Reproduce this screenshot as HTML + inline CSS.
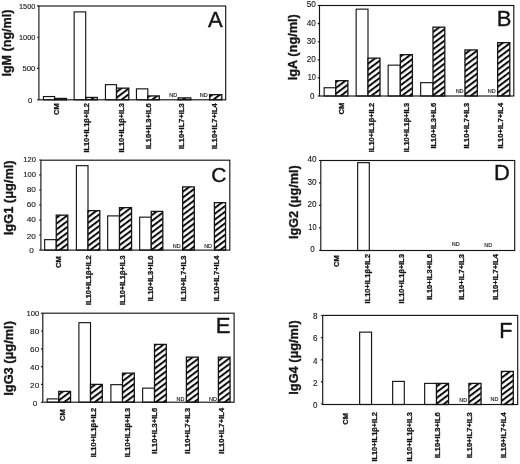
<!DOCTYPE html>
<html><head><meta charset="utf-8"><title>Figure</title>
<style>
html,body{margin:0;padding:0;background:#fff;}
svg{display:block;will-change:transform;}
text{font-family:"Liberation Sans", sans-serif;fill:#151515;}
.t{font-size:8.4px;text-anchor:end;stroke:#151515;stroke-width:0.12;}
.x{font-size:7.5px;font-weight:bold;text-anchor:end;stroke:#151515;stroke-width:0.30;}
.n{font-size:4.9px;text-anchor:middle;stroke:#151515;stroke-width:0.12;}
.y{font-size:13.0px;font-weight:bold;text-anchor:middle;stroke:#151515;stroke-width:0.35;}
.L{text-anchor:start;stroke:#151515;stroke-width:0.4;}
.a{fill:none;stroke:#151515;stroke-width:1.15;}
.o{fill:#fff;stroke:#151515;stroke-width:1.15;}
.h{fill:url(#hp);stroke:#151515;stroke-width:1.30;}
</style></head>
<body>
<svg width="520" height="464" viewBox="0 0 520 464">
<defs><pattern id="hp" width="4.6" height="4.6" patternUnits="userSpaceOnUse" patternTransform="rotate(-37)"><rect width="4.6" height="4.6" fill="#fff"/><rect width="4.6" height="2.0" fill="#0c0c0c"/></pattern></defs>
<rect width="520" height="464" fill="#fff"/>
<g id="panelA">
<rect class="o" x="43.45" y="96.55" width="11.15" height="3.25"/>
<rect class="h" x="54.60" y="98.45" width="11.80" height="1.35"/>
<rect class="o" x="74.15" y="11.90" width="11.55" height="87.90"/>
<rect class="h" x="85.70" y="97.45" width="11.60" height="2.35"/>
<rect class="o" x="105.45" y="84.65" width="11.05" height="15.15"/>
<rect class="h" x="116.50" y="88.15" width="12.30" height="11.65"/>
<rect class="o" x="136.45" y="88.85" width="11.35" height="10.95"/>
<rect class="h" x="147.80" y="95.95" width="11.50" height="3.85"/>
<rect class="h" x="178.15" y="97.90" width="12.65" height="1.90"/>
<rect class="h" x="209.65" y="94.65" width="12.15" height="5.15"/>
<rect class="a" x="38.90" y="6.00" width="186.80" height="93.80"/>
<path class="a" d="M37.10 5.90H38.90M37.10 37.20H38.90M37.10 68.40H38.90M37.10 99.70H38.90"/>
<text class="t" style="font-size:6.8px" x="35.30" y="8.70" textLength="16.3" lengthAdjust="spacingAndGlyphs">1500</text>
<text class="t" style="font-size:6.8px" x="35.30" y="40.00" textLength="16.3" lengthAdjust="spacingAndGlyphs">1000</text>
<text class="t" style="font-size:6.8px" x="35.30" y="71.20" textLength="12.9" lengthAdjust="spacingAndGlyphs">500</text>
<text class="t" style="font-size:6.8px" x="32.30" y="103.30" textLength="4.3" lengthAdjust="spacingAndGlyphs">0</text>
<text class="y" transform="translate(11.30 43.10) rotate(-90)" textLength="67" lengthAdjust="spacingAndGlyphs">IgM (ng/ml)</text>
<text class="L" x="208.00" y="26.90" font-size="22">A</text>
<text class="n" x="173.20" y="96.95" textLength="7.9" lengthAdjust="spacingAndGlyphs">ND</text>
<text class="n" x="203.80" y="96.95" textLength="7.9" lengthAdjust="spacingAndGlyphs">ND</text>
<text class="x" transform="translate(58.70 103.20) rotate(-90)" textLength="11.8" lengthAdjust="spacingAndGlyphs">CM</text>
<text class="x" transform="translate(88.50 103.20) rotate(-90)" textLength="49.4" lengthAdjust="spacingAndGlyphs">IL10+IL1β+IL2</text>
<text class="x" transform="translate(123.50 103.20) rotate(-90)" textLength="49.4" lengthAdjust="spacingAndGlyphs">IL10+IL1β+IL3</text>
<text class="x" transform="translate(151.00 103.20) rotate(-90)" textLength="45.8" lengthAdjust="spacingAndGlyphs">IL10+IL3+IL6</text>
<text class="x" transform="translate(183.60 103.20) rotate(-90)" textLength="45.8" lengthAdjust="spacingAndGlyphs">IL10+IL7+IL3</text>
<text class="x" transform="translate(217.40 103.20) rotate(-90)" textLength="45.8" lengthAdjust="spacingAndGlyphs">IL10+IL7+IL4</text>
</g>
<g id="panelB">
<rect class="o" x="324.15" y="87.75" width="11.60" height="8.25"/>
<rect class="h" x="335.75" y="80.65" width="12.15" height="15.35"/>
<rect class="o" x="356.15" y="9.15" width="11.85" height="86.85"/>
<rect class="h" x="368.00" y="58.15" width="12.00" height="37.85"/>
<rect class="o" x="388.15" y="65.15" width="12.15" height="30.85"/>
<rect class="h" x="400.30" y="54.65" width="12.10" height="41.35"/>
<rect class="o" x="420.65" y="82.65" width="12.35" height="13.35"/>
<rect class="h" x="433.00" y="27.15" width="11.80" height="68.85"/>
<rect class="h" x="464.95" y="49.95" width="12.35" height="46.05"/>
<rect class="h" x="497.65" y="42.65" width="12.15" height="53.35"/>
<rect class="a" x="319.50" y="5.50" width="194.30" height="90.50"/>
<path class="a" d="M317.70 5.50H319.50M317.70 23.60H319.50M317.70 41.70H319.50M317.70 59.80H319.50M317.70 77.90H319.50M317.70 96.00H319.50"/>
<text class="t" style="font-size:8.4px" x="315.90" y="7.20" textLength="9.1" lengthAdjust="spacingAndGlyphs">50</text>
<text class="t" style="font-size:8.4px" x="315.90" y="26.00" textLength="9.1" lengthAdjust="spacingAndGlyphs">40</text>
<text class="t" style="font-size:8.4px" x="315.90" y="43.70" textLength="9.1" lengthAdjust="spacingAndGlyphs">30</text>
<text class="t" style="font-size:8.4px" x="315.90" y="62.20" textLength="9.1" lengthAdjust="spacingAndGlyphs">20</text>
<text class="t" style="font-size:8.4px" x="315.90" y="80.00" textLength="8.2" lengthAdjust="spacingAndGlyphs">10</text>
<text class="t" style="font-size:8.4px" x="314.40" y="98.70" textLength="4.5" lengthAdjust="spacingAndGlyphs">0</text>
<text class="y" transform="translate(296.60 47.20) rotate(-90)" textLength="66" lengthAdjust="spacingAndGlyphs">IgA (ng/ml)</text>
<text class="L" x="496.80" y="25.80" font-size="22">B</text>
<text class="n" x="459.60" y="92.95" textLength="7.9" lengthAdjust="spacingAndGlyphs">ND</text>
<text class="n" x="491.80" y="92.95" textLength="7.9" lengthAdjust="spacingAndGlyphs">ND</text>
<text class="x" transform="translate(344.00 102.80) rotate(-90)" textLength="11.8" lengthAdjust="spacingAndGlyphs">CM</text>
<text class="x" transform="translate(374.40 102.80) rotate(-90)" textLength="49.4" lengthAdjust="spacingAndGlyphs">IL10+IL1β+IL2</text>
<text class="x" transform="translate(409.00 102.80) rotate(-90)" textLength="49.4" lengthAdjust="spacingAndGlyphs">IL10+IL1β+IL3</text>
<text class="x" transform="translate(436.40 102.80) rotate(-90)" textLength="45.8" lengthAdjust="spacingAndGlyphs">IL10+IL3+IL6</text>
<text class="x" transform="translate(469.00 102.80) rotate(-90)" textLength="45.8" lengthAdjust="spacingAndGlyphs">IL10+IL7+IL3</text>
<text class="x" transform="translate(503.00 102.80) rotate(-90)" textLength="45.8" lengthAdjust="spacingAndGlyphs">IL10+IL7+IL4</text>
</g>
<g id="panelC">
<rect class="o" x="44.65" y="239.65" width="11.60" height="10.45"/>
<rect class="h" x="56.25" y="215.15" width="11.55" height="34.95"/>
<rect class="o" x="76.40" y="165.65" width="11.60" height="84.45"/>
<rect class="h" x="88.00" y="210.65" width="11.80" height="39.45"/>
<rect class="o" x="107.65" y="215.90" width="11.85" height="34.20"/>
<rect class="h" x="119.50" y="207.65" width="12.05" height="42.45"/>
<rect class="o" x="139.65" y="217.15" width="11.60" height="32.95"/>
<rect class="h" x="151.25" y="211.40" width="11.55" height="38.70"/>
<rect class="h" x="182.65" y="186.90" width="11.65" height="63.20"/>
<rect class="h" x="214.40" y="202.65" width="11.15" height="47.45"/>
<rect class="a" x="40.90" y="160.20" width="188.90" height="89.90"/>
<path class="a" d="M39.10 160.00H40.90M39.10 175.00H40.90M39.10 190.00H40.90M39.10 205.00H40.90M39.10 220.00H40.90M39.10 235.00H40.90M39.10 250.00H40.90"/>
<text class="t" style="font-size:8.1px" x="35.90" y="161.90" textLength="12.7" lengthAdjust="spacingAndGlyphs">120</text>
<text class="t" style="font-size:8.1px" x="35.90" y="176.90" textLength="12.7" lengthAdjust="spacingAndGlyphs">100</text>
<text class="t" style="font-size:8.1px" x="35.90" y="191.90" textLength="9.2" lengthAdjust="spacingAndGlyphs">80</text>
<text class="t" style="font-size:8.1px" x="35.90" y="206.90" textLength="9.2" lengthAdjust="spacingAndGlyphs">60</text>
<text class="t" style="font-size:8.1px" x="35.90" y="222.20" textLength="9.2" lengthAdjust="spacingAndGlyphs">40</text>
<text class="t" style="font-size:8.1px" x="35.90" y="238.90" textLength="9.2" lengthAdjust="spacingAndGlyphs">20</text>
<text class="t" style="font-size:8.1px" x="33.90" y="252.80" textLength="4.6" lengthAdjust="spacingAndGlyphs">0</text>
<text class="y" transform="translate(12.60 197.80) rotate(-90)" textLength="74.8" lengthAdjust="spacingAndGlyphs">IgG1 (μg/ml)</text>
<text class="L" x="211.30" y="181.80" font-size="21">C</text>
<text class="n" x="176.80" y="247.55" textLength="7.9" lengthAdjust="spacingAndGlyphs">ND</text>
<text class="n" x="208.10" y="247.55" textLength="7.9" lengthAdjust="spacingAndGlyphs">ND</text>
<text class="x" transform="translate(61.00 256.30) rotate(-90)" textLength="11.8" lengthAdjust="spacingAndGlyphs">CM</text>
<text class="x" transform="translate(91.40 255.50) rotate(-90)" textLength="49.4" lengthAdjust="spacingAndGlyphs">IL10+IL1β+IL2</text>
<text class="x" transform="translate(125.30 255.50) rotate(-90)" textLength="49.4" lengthAdjust="spacingAndGlyphs">IL10+IL1β+IL3</text>
<text class="x" transform="translate(153.40 255.50) rotate(-90)" textLength="45.8" lengthAdjust="spacingAndGlyphs">IL10+IL3+IL6</text>
<text class="x" transform="translate(185.60 255.50) rotate(-90)" textLength="45.8" lengthAdjust="spacingAndGlyphs">IL10+IL7+IL3</text>
<text class="x" transform="translate(219.20 255.50) rotate(-90)" textLength="45.8" lengthAdjust="spacingAndGlyphs">IL10+IL7+IL4</text>
</g>
<g id="panelD">
<rect class="o" x="357.65" y="162.65" width="11.65" height="87.85"/>
<rect class="a" x="320.80" y="160.50" width="193.90" height="90.00"/>
<path class="a" d="M319.00 160.50H320.80M319.00 182.90H320.80M319.00 205.30H320.80M319.00 227.80H320.80M319.00 250.20H320.80"/>
<text class="t" style="font-size:8.4px" x="316.50" y="162.45" textLength="9.1" lengthAdjust="spacingAndGlyphs">40</text>
<text class="t" style="font-size:8.4px" x="316.50" y="184.85" textLength="9.1" lengthAdjust="spacingAndGlyphs">30</text>
<text class="t" style="font-size:8.4px" x="316.50" y="207.25" textLength="9.1" lengthAdjust="spacingAndGlyphs">20</text>
<text class="t" style="font-size:8.4px" x="316.50" y="229.75" textLength="8.2" lengthAdjust="spacingAndGlyphs">10</text>
<text class="t" style="font-size:8.4px" x="314.70" y="252.15" textLength="4.5" lengthAdjust="spacingAndGlyphs">0</text>
<text class="y" transform="translate(298.00 202.20) rotate(-90)" textLength="73.8" lengthAdjust="spacingAndGlyphs">IgG2 (μg/ml)</text>
<text class="L" x="494.00" y="179.70" font-size="22">D</text>
<text class="n" x="455.70" y="246.25" textLength="7.9" lengthAdjust="spacingAndGlyphs">ND</text>
<text class="n" x="488.20" y="247.25" textLength="7.9" lengthAdjust="spacingAndGlyphs">ND</text>
<text class="x" transform="translate(339.20 255.30) rotate(-90)" textLength="11.8" lengthAdjust="spacingAndGlyphs">CM</text>
<text class="x" transform="translate(370.40 254.00) rotate(-90)" textLength="49.4" lengthAdjust="spacingAndGlyphs">IL10+IL1β+IL2</text>
<text class="x" transform="translate(403.90 254.00) rotate(-90)" textLength="49.4" lengthAdjust="spacingAndGlyphs">IL10+IL1β+IL3</text>
<text class="x" transform="translate(431.50 254.00) rotate(-90)" textLength="45.8" lengthAdjust="spacingAndGlyphs">IL10+IL3+IL6</text>
<text class="x" transform="translate(463.90 254.00) rotate(-90)" textLength="45.8" lengthAdjust="spacingAndGlyphs">IL10+IL7+IL3</text>
<text class="x" transform="translate(497.90 254.00) rotate(-90)" textLength="45.8" lengthAdjust="spacingAndGlyphs">IL10+IL7+IL4</text>
</g>
<g id="panelE">
<rect class="o" x="47.15" y="398.90" width="11.60" height="3.30"/>
<rect class="h" x="58.75" y="391.40" width="11.80" height="10.80"/>
<rect class="o" x="78.90" y="322.65" width="11.60" height="79.55"/>
<rect class="h" x="90.50" y="384.40" width="11.80" height="17.80"/>
<rect class="o" x="110.90" y="384.65" width="11.60" height="17.55"/>
<rect class="h" x="122.50" y="373.15" width="11.80" height="29.05"/>
<rect class="o" x="142.65" y="388.15" width="11.85" height="14.05"/>
<rect class="h" x="154.50" y="344.40" width="11.80" height="57.80"/>
<rect class="h" x="186.40" y="357.15" width="11.90" height="45.05"/>
<rect class="h" x="218.40" y="357.15" width="11.65" height="45.05"/>
<rect class="a" x="42.80" y="313.20" width="191.30" height="89.00"/>
<path class="a" d="M41.00 313.20H42.80M41.00 331.00H42.80M41.00 348.80H42.80M41.00 366.60H42.80M41.00 384.40H42.80M41.00 402.20H42.80"/>
<text class="t" style="font-size:8.1px" x="39.20" y="315.70" textLength="12.7" lengthAdjust="spacingAndGlyphs">100</text>
<text class="t" style="font-size:8.1px" x="39.20" y="334.30" textLength="9.1" lengthAdjust="spacingAndGlyphs">80</text>
<text class="t" style="font-size:8.1px" x="39.20" y="352.10" textLength="9.1" lengthAdjust="spacingAndGlyphs">60</text>
<text class="t" style="font-size:8.1px" x="39.20" y="369.90" textLength="9.1" lengthAdjust="spacingAndGlyphs">40</text>
<text class="t" style="font-size:8.1px" x="39.20" y="387.70" textLength="9.1" lengthAdjust="spacingAndGlyphs">20</text>
<text class="t" style="font-size:8.1px" x="37.20" y="405.50" textLength="4.5" lengthAdjust="spacingAndGlyphs">0</text>
<text class="y" transform="translate(13.10 358.40) rotate(-90)" textLength="74.6" lengthAdjust="spacingAndGlyphs">IgG3 (μg/ml)</text>
<text class="L" x="215.70" y="333.30" font-size="22">E</text>
<text class="n" x="180.40" y="400.75" textLength="7.9" lengthAdjust="spacingAndGlyphs">ND</text>
<text class="n" x="212.90" y="400.75" textLength="7.9" lengthAdjust="spacingAndGlyphs">ND</text>
<text class="x" transform="translate(64.60 409.10) rotate(-90)" textLength="11.8" lengthAdjust="spacingAndGlyphs">CM</text>
<text class="x" transform="translate(95.50 407.90) rotate(-90)" textLength="49.4" lengthAdjust="spacingAndGlyphs">IL10+IL1β+IL2</text>
<text class="x" transform="translate(129.60 407.90) rotate(-90)" textLength="49.4" lengthAdjust="spacingAndGlyphs">IL10+IL1β+IL3</text>
<text class="x" transform="translate(157.40 407.90) rotate(-90)" textLength="45.8" lengthAdjust="spacingAndGlyphs">IL10+IL3+IL6</text>
<text class="x" transform="translate(190.00 407.90) rotate(-90)" textLength="45.8" lengthAdjust="spacingAndGlyphs">IL10+IL7+IL3</text>
<text class="x" transform="translate(223.80 407.90) rotate(-90)" textLength="45.8" lengthAdjust="spacingAndGlyphs">IL10+IL7+IL4</text>
</g>
<g id="panelF">
<rect class="o" x="359.65" y="332.15" width="11.90" height="72.35"/>
<rect class="o" x="392.65" y="381.40" width="11.65" height="23.10"/>
<rect class="o" x="424.65" y="383.40" width="11.85" height="21.10"/>
<rect class="h" x="436.50" y="383.40" width="12.05" height="21.10"/>
<rect class="h" x="468.90" y="383.40" width="12.15" height="21.10"/>
<rect class="h" x="501.40" y="371.40" width="11.90" height="33.10"/>
<rect class="a" x="322.70" y="315.40" width="195.00" height="89.10"/>
<path class="a" d="M320.90 315.50H322.70M320.90 337.60H322.70M320.90 359.80H322.70M320.90 381.90H322.70M320.90 404.00H322.70"/>
<text class="t" style="font-size:8.4px" x="317.40" y="319.30" textLength="4.5" lengthAdjust="spacingAndGlyphs">8</text>
<text class="t" style="font-size:8.4px" x="317.40" y="341.40" textLength="4.5" lengthAdjust="spacingAndGlyphs">6</text>
<text class="t" style="font-size:8.4px" x="317.40" y="363.60" textLength="4.5" lengthAdjust="spacingAndGlyphs">4</text>
<text class="t" style="font-size:8.4px" x="317.40" y="385.70" textLength="4.5" lengthAdjust="spacingAndGlyphs">2</text>
<text class="t" style="font-size:8.4px" x="317.40" y="407.80" textLength="4.5" lengthAdjust="spacingAndGlyphs">0</text>
<text class="y" transform="translate(298.20 357.50) rotate(-90)" textLength="74.4" lengthAdjust="spacingAndGlyphs">IgG4 (μg/ml)</text>
<text class="L" x="499.20" y="338.00" font-size="21.5">F</text>
<text class="n" x="463.30" y="401.95" textLength="7.9" lengthAdjust="spacingAndGlyphs">ND</text>
<text class="n" x="494.40" y="400.75" textLength="7.9" lengthAdjust="spacingAndGlyphs">ND</text>
<text class="x" transform="translate(347.50 412.90) rotate(-90)" textLength="11.8" lengthAdjust="spacingAndGlyphs">CM</text>
<text class="x" transform="translate(377.10 412.20) rotate(-90)" textLength="49.4" lengthAdjust="spacingAndGlyphs">IL10+IL1β+IL2</text>
<text class="x" transform="translate(411.80 412.20) rotate(-90)" textLength="49.4" lengthAdjust="spacingAndGlyphs">IL10+IL1β+IL3</text>
<text class="x" transform="translate(440.00 412.20) rotate(-90)" textLength="45.8" lengthAdjust="spacingAndGlyphs">IL10+IL3+IL6</text>
<text class="x" transform="translate(472.10 412.20) rotate(-90)" textLength="45.8" lengthAdjust="spacingAndGlyphs">IL10+IL7+IL3</text>
<text class="x" transform="translate(506.10 412.20) rotate(-90)" textLength="45.8" lengthAdjust="spacingAndGlyphs">IL10+IL7+IL4</text>
</g>
</svg>
</body></html>
